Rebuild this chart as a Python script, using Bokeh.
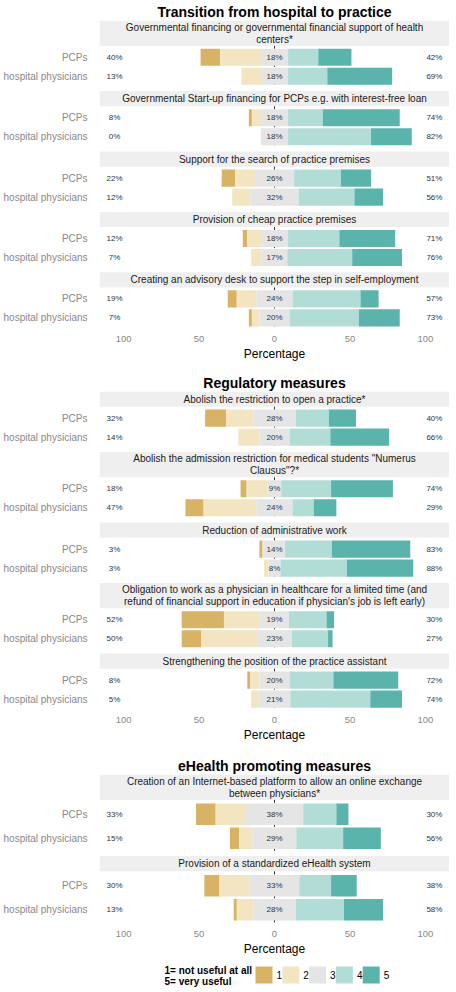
from bokeh.plotting import figure
from bokeh.models import Range1d, FixedTicker, ColumnDataSource, Spacer
from bokeh.layouts import column
from bokeh.embed import file_html
from bokeh.resources import INLINE
from bokeh.core.properties import value

# ---------------- data ----------------
levels = ["1", "2", "3", "4", "5"]
colors = ["#D8B365", "#F3E5C1", "#E5E5E5", "#B1DDD6", "#5AB4AC"]
groups = ["PCPs", "hospital physicians"]
x_ticks = [-100, -50, 0, 50, 100]
x_tick_labels = ["100", "50", "0", "50", "100"]
legend_title = "1= not useful at all\n5= very useful"
axis_title = "Percentage"

sec1_title = "Transition from hospital to practice"
sec1_items = [
    "Governmental financing or governmental financial support of health\ncenters*",
    "Governmental Start-up financing for PCPs e.g. with interest-free loan",
    "Support for the search of practice premises",
    "Provision of cheap practice premises",
    "Creating an advisory desk to support the step in self-employment",
]
sec1_pcp = [[13, 27, 18, 20, 22], [2, 6, 18, 23, 51], [9, 13, 26, 31, 20],
            [3, 9, 18, 34, 37], [6, 13, 24, 45, 12]]
sec1_hosp = [[0, 13, 18, 26, 43], [0, 0, 18, 55, 27], [0, 12, 32, 37, 19],
             [0, 7, 17, 43, 33], [2, 5, 20, 46, 27]]

sec2_title = "Regulatory measures"
sec2_items = [
    "Abolish the restriction to open a practice*",
    "Abolish the admission restriction for medical students \"Numerus\nClausus\"?*",
    "Reduction of administrative work",
    "Obligation to work as a physician in healthcare for a limited time (and\nrefund of financial support in education if physician's job is left early)",
    "Strengthening the position of the practice assistant",
]
sec2_pcp = [[14, 18, 28, 22, 18], [4, 14, 9, 33, 41], [2, 1, 14, 31, 52],
            [28, 24, 19, 25, 5], [2, 6, 20, 29, 43]]
sec2_hosp = [[0, 14, 20, 27, 39], [12, 35, 24, 14, 15], [0, 3, 8, 44, 44],
             [13, 37, 23, 24, 3], [0, 5, 21, 53, 21]]

sec3_title = "eHealth promoting measures"
sec3_items = [
    "Creation of an Internet-based platform to allow an online exchange\nbetween physicians*",
    "Provision of a standardized eHealth system",
]
sec3_pcp = [[13, 20, 38, 22, 8], [10, 20, 33, 21, 17]]
sec3_hosp = [[6, 9, 29, 31, 25], [2, 11, 28, 32, 26]]

# ---------------- layout constants ----------------
FONT = "Liberation Sans"
X_LO, X_HI = -116, 116
LBL_X = 106
STRIP1, STRIP2, GAP = 15.2, 25.4, 3.4
FRAME_W = 350
LEFT_W = 90
UX = (X_HI - X_LO) / FRAME_W  # data units per pixel


def build(title, items, pcp, hosp, pitch):
    strip_top, strip_bot, strip_mid, strip_txt = [], [], [], []
    pan_top, pan_bot = [], []
    ycen, ylab, rows = [], [], []
    y = 0.0
    for i, q in enumerate(items):
        h = STRIP2 if "\n" in q else STRIP1
        strip_top.append(y)
        strip_bot.append(y + h)
        strip_mid.append(y + h / 2)
        strip_txt.append(q)
        top = y + h
        for j, vals in enumerate((pcp[i], hosp[i])):
            ycen.append(top + (0.6 + j) * pitch)
            ylab.append(groups[j])
            rows.append(vals)
        pan_top.append(top)
        pan_bot.append(top + 2.2 * pitch)
        y = top + 2.2 * pitch + GAP
    H = int(round(y - GAP))

    p = figure(frame_width=FRAME_W, frame_height=H,
               x_range=Range1d(X_LO, X_HI), y_range=Range1d(H, 0),
               output_backend="svg", toolbar_location=None, title=title,
               min_border_left=0, min_border_right=0, min_border_top=0,
               min_border_bottom=0)
    p.outline_line_color = None
    p.xgrid.visible = False
    p.ygrid.visible = False
    p.background_fill_color = "white"

    p.title.align = "center"
    p.title.text_font = FONT
    p.title.text_font_size = "14px"
    p.title.text_font_style = "bold"
    p.title.text_color = "black"
    p.title.standoff = 2
    p.title.offset = 0

    # strip backgrounds and texts
    p.quad(left=X_LO, right=X_HI, top=strip_top, bottom=strip_bot,
           fill_color="#EFEFEF", line_color=None)
    p.text(x=0, y=strip_mid, text=strip_txt, text_align="center",
           text_baseline="middle", text_font=value(FONT),
           text_font_size="10px", text_color="#1A1A1A", text_line_height=1.1)

    # zero dashed line in each panel
    p.segment(x0=0, x1=0, y0=pan_top, y1=pan_bot, line_color="#333333",
              line_width=1, line_dash="3 3")

    bar_h = 0.9 * pitch
    for k, lev in enumerate(levels):
        left = [-(v[0] + v[1] + v[2] / 2) + sum(v[:k]) for v in rows]
        right = [l + v[k] for l, v in zip(left, rows)]
        src = ColumnDataSource(dict(y=ycen, left=left, right=right))
        p.hbar(y="y", left="left", right="right", height=bar_h, source=src,
               fill_color=colors[k], line_color=None)

    lo = ["%d%%" % (v[0] + v[1]) for v in rows]
    mid = ["%d%%" % v[2] for v in rows]
    hi = ["%d%%" % (v[3] + v[4]) for v in rows]
    for xs, txt in ((-LBL_X, lo), (0, mid), (LBL_X, hi)):
        p.text(x=xs, y=ycen, text=txt, text_align="center",
               text_baseline="middle", text_font=value(FONT),
               text_font_size="8px", text_color="#333333")

    # axes
    p.yaxis.ticker = FixedTicker(ticks=ycen)
    p.yaxis.major_label_overrides = {c: l for c, l in zip(ycen, ylab)}
    p.yaxis.minor_tick_line_color = None
    p.yaxis.major_tick_line_color = None
    p.yaxis.axis_line_color = None
    p.yaxis.major_label_text_font = FONT
    p.yaxis.major_label_text_font_size = "10px"
    p.yaxis.major_label_text_color = "#888888"
    p.yaxis.major_label_standoff = 6

    p.xaxis.ticker = FixedTicker(ticks=x_ticks)
    p.xaxis.major_label_overrides = dict(zip(x_ticks, x_tick_labels))
    p.xaxis.minor_tick_line_color = None
    p.xaxis.major_tick_line_color = None
    p.xaxis.major_tick_out = 0
    p.xaxis.major_tick_in = 0
    p.xaxis.minor_tick_out = 0
    p.xaxis.axis_line_color = None
    p.xaxis.major_label_text_font = FONT
    p.xaxis.major_label_text_font_size = "9.5px"
    p.xaxis.major_label_text_color = "#888888"
    p.xaxis.major_label_standoff = 6
    p.xaxis.axis_label = axis_title
    p.xaxis.axis_label_text_font = FONT
    p.xaxis.axis_label_text_font_size = "12px"
    p.xaxis.axis_label_text_font_style = "normal"
    p.xaxis.axis_label_text_color = "black"
    p.xaxis.axis_label_standoff = 2
    return p


def build_legend():
    LH = 24
    p = figure(frame_width=FRAME_W, frame_height=LH,
               x_range=Range1d(X_LO, X_HI), y_range=Range1d(LH, 0),
               output_backend="svg", toolbar_location=None,
               x_axis_location=None, y_axis_location=None,
               min_border_left=LEFT_W, min_border_right=0,
               min_border_top=0, min_border_bottom=0)
    p.outline_line_color = None
    p.xgrid.visible = False
    p.ygrid.visible = False
    # offsets in pixels from the frame centre, converted to data units
    sw, pitch, x0, title_x, top = 17, 26.8, -19, -110, 2
    lefts = [(x0 + k * pitch) * UX for k in range(len(levels))]
    p.quad(left=lefts, right=[l + sw * UX for l in lefts],
           top=[top] * len(levels), bottom=[top + sw] * len(levels),
           fill_color=colors, line_color=None)
    p.text(x=[l + (sw + 4) * UX for l in lefts], y=[top + sw / 2] * len(levels),
           text=levels, text_align="left", text_baseline="middle",
           text_font=value(FONT), text_font_size="10px", text_color="black")
    p.text(x=[title_x * UX], y=[top + sw / 2 + 1], text=[legend_title],
           text_align="left", text_baseline="middle", text_font=value(FONT),
           text_font_size="10px", text_font_style="bold", text_color="black",
           text_line_height=1.0)
    return p


f1 = build(sec1_title, sec1_items, sec1_pcp, sec1_hosp, 19)
f2 = build(sec2_title, sec2_items, sec2_pcp, sec2_hosp, 19)
f3 = build(sec3_title, sec3_items, sec3_pcp, sec3_hosp, 24)
fl = build_legend()

layout = column(f1, Spacer(height=8), f2, Spacer(height=10), f3,
                Spacer(height=6), fl, spacing=0)
open("out.html", "w").write(file_html(layout, INLINE))
